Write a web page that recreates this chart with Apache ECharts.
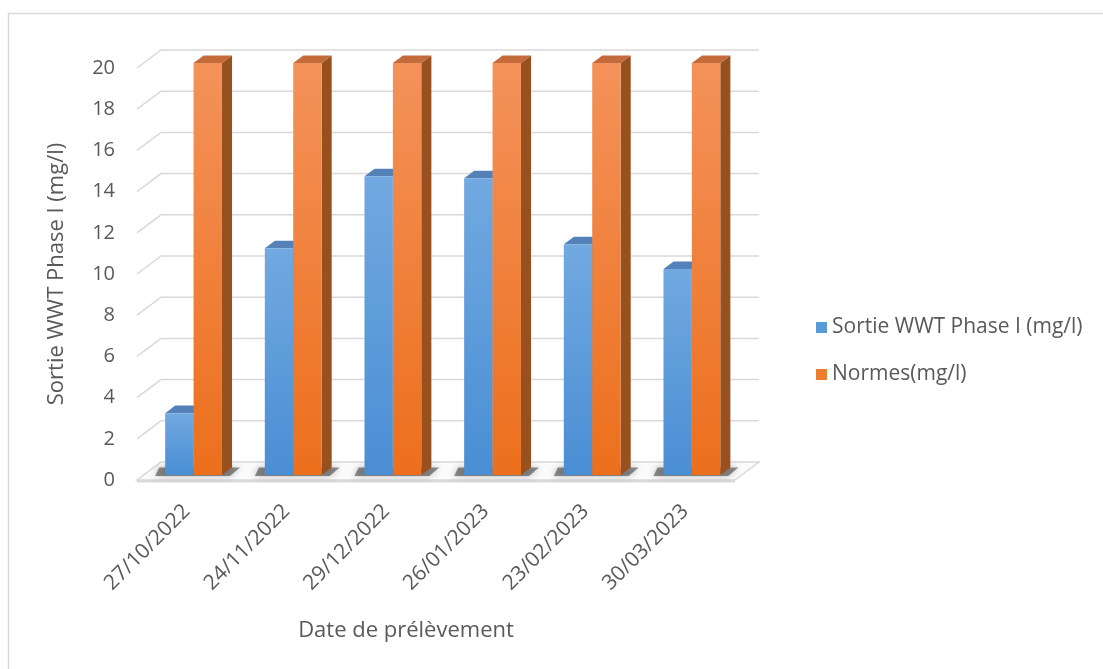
<!DOCTYPE html>
<html>
<head>
<meta charset="utf-8">
<script src="https://cdn.jsdelivr.net/npm/echarts@6/dist/echarts.min.js"></script>
<style>
  html, body { margin: 0; padding: 0; background: #ffffff; }
  #chart { width: 1103px; height: 669px; }
</style>
</head>
<body>
<div id="chart"></div>
<script>
// Sampling dates and measured values
const categories = ['27/10/2022', '24/11/2022', '29/12/2022', '26/01/2023', '23/02/2023', '30/03/2023'];
const sortieValues = [3.0, 11.0, 14.5, 14.4, 11.2, 10.0];
const normesValues = [20, 20, 20, 20, 20, 20];
const yTicks = [0, 2, 4, 6, 8, 10, 12, 14, 16, 18, 20];

const seriesNames = ['Sortie WWT Phase I (mg/l)', 'Normes(mg/l)'];
const FONT = 'Open Sans';
const TEXT = '#595959';

// Perspective: full floor depth, and where bars sit inside it
const DEPTH = [24, -18];
const BAR_FRONT = 0.28;   // fraction of depth to bar front face
const BAR_DEPTH = 0.42;   // fraction of depth used by bar thickness
const BAR_W = 0.285;      // bar width as fraction of category band

const styles = [
  { front: ['#71a9e0', '#4a8ed4'], top: '#5482b8', side: '#3a6ea5', legend: '#5b9bd5' },
  { front: ['#f4925a', '#ec6f1c'], top: '#c46b3c', side: '#99501f', legend: '#ed7d31' }
];

const chart = echarts.init(document.getElementById('chart'), null, { renderer: 'canvas' });

function bandInfo(api) {
  const bw = api.size([1, 0])[0];
  const L = api.coord([0, 0])[0] - bw / 2;
  const R = api.coord([categories.length - 1, 0])[0] + bw / 2;
  return { bw, L, R };
}

// Back wall, side wall and floor grid lines
function renderWalls(params, api) {
  const t = api.value(1);
  const { L, R } = bandInfo(api);
  const y = api.coord([0, t])[1];
  const [dx, dy] = DEPTH;
  const children = [];
  if (t === 0) {
    children.push({
      type: 'polygon',
      shape: { points: [[L, y], [R, y], [R + dx, y + dy], [L + dx, y + dy]] },
      style: { fill: '#fbfbfb', stroke: '#d9d9d9', lineWidth: 1.5 }
    });
    children.push({
      type: 'rect',
      shape: { x: L, y: y, width: R - L, height: 2.5 },
      style: { fill: '#d9d9d9' }
    });
  } else {
    children.push({
      type: 'polyline',
      shape: { points: [[L, y], [L + dx, y + dy], [R + dx, y + dy]] },
      style: { stroke: '#d9d9d9', lineWidth: 1.5, fill: null }
    });
  }
  return { type: 'group', children };
}

// Soft shadows cast on the floor around each pair of bars
function renderShadow(params, api) {
  const ci = api.value(0);
  const { bw } = bandInfo(api);
  const base = api.coord([ci, 0]);
  const w = bw * BAR_W;
  const ox = DEPTH[0] * BAR_FRONT, oy = DEPTH[1] * BAR_FRONT;
  const dx = DEPTH[0] * BAR_DEPTH, dy = DEPTH[1] * BAR_DEPTH;
  const x0 = base[0] - w + ox - 16, x1 = base[0] + w + ox + 8;
  const yb = base[1] + oy;
  return {
    type: 'polygon',
    shape: { points: [[x0 + 6, yb + 1], [x1, yb + 1], [x1 + dx, yb + dy], [x0 + dx, yb + dy]] },
    style: { fill: 'rgba(40,40,40,0.5)', shadowBlur: 7, shadowColor: 'rgba(0,0,0,0.55)' }
  };
}

// 3D bar made of a front face, top face and right side face
function makeBarRenderer(sideIdx) {
  const st = styles[sideIdx];
  return function (params, api) {
    const ci = api.value(0), v = api.value(1);
    const { bw } = bandInfo(api);
    const base = api.coord([ci, 0]);
    const top = api.coord([ci, v]);
    const w = bw * BAR_W;
    const ox = DEPTH[0] * BAR_FRONT, oy = DEPTH[1] * BAR_FRONT;
    const dx = DEPTH[0] * BAR_DEPTH, dy = DEPTH[1] * BAR_DEPTH;
    const x0 = base[0] + (sideIdx === 0 ? -w : 0) + ox;
    const x1 = x0 + w;
    const yb = base[1] + oy;
    const yt = top[1] + oy;
    return {
      type: 'group',
      children: [
        {
          type: 'polygon',
          shape: { points: [[x1, yt], [x1 + dx, yt + dy], [x1 + dx, yb + dy], [x1, yb]] },
          style: { fill: st.side }
        },
        {
          type: 'polygon',
          shape: { points: [[x0, yt], [x0 + dx, yt + dy], [x1 + dx, yt + dy], [x1, yt]] },
          style: { fill: st.top }
        },
        {
          type: 'rect',
          shape: { x: x0, y: yt, width: w, height: yb - yt },
          style: {
            fill: new echarts.graphic.LinearGradient(0, 0, 0, 1, [
              { offset: 0, color: st.front[0] },
              { offset: 1, color: st.front[1] }
            ])
          }
        }
      ]
    };
  };
}

const option = {
  backgroundColor: '#ffffff',
  animation: false,
  textStyle: { fontFamily: FONT },
  graphic: [
    {
      type: 'rect',
      shape: { x: 8.5, y: 13.5, width: 1200, height: 800 },
      style: { fill: null, stroke: '#d9d9d9', lineWidth: 1.5 },
      silent: true,
      z: -10
    }
  ],
  legend: {
    orient: 'vertical',
    left: 811,
    top: 312,
    itemGap: 26,
    itemWidth: 11,
    itemHeight: 11,
    icon: 'rect',
    textStyle: { fontFamily: FONT, fontSize: 21, color: TEXT },
    data: [
      { name: seriesNames[0], itemStyle: { color: styles[0].legend } },
      { name: seriesNames[1], itemStyle: { color: styles[1].legend } }
    ]
  },
  grid: { left: 137, top: 68, width: 598, height: 412, containLabel: false },
  xAxis: {
    type: 'category',
    data: categories,
    axisLine: { show: false },
    axisTick: { show: false },
    axisLabel: {
      rotate: 45,
      margin: 28,
      fontFamily: FONT,
      fontSize: 21,
      color: TEXT,
      padding: [0, 0, 0, 14]
    },
    name: 'Date de prélèvement',
    nameLocation: 'middle',
    nameGap: 140,
    nameTextStyle: { fontFamily: FONT, fontSize: 22, color: TEXT, padding: [0, 60, 0, 0] }
  },
  yAxis: {
    type: 'value',
    min: 0,
    max: 20,
    interval: 2,
    axisLine: { show: false },
    axisTick: { show: false },
    splitLine: { show: false },
    axisLabel: { margin: 22, fontFamily: FONT, fontSize: 20, color: TEXT },
    name: 'Sortie WWT Phase I (mg/l)',
    nameLocation: 'middle',
    nameGap: 69,
    nameTextStyle: { fontFamily: FONT, fontSize: 22, color: TEXT }
  },
  series: [
    {
      type: 'custom',
      name: 'walls',
      renderItem: renderWalls,
      data: yTicks.map(t => [0, t]),
      clip: false,
      silent: true,
      z: 1
    },
    {
      type: 'custom',
      name: 'shadows',
      renderItem: renderShadow,
      data: categories.map((c, i) => [i, 0]),
      clip: false,
      silent: true,
      z: 2
    },
    {
      type: 'custom',
      name: seriesNames[0],
      renderItem: makeBarRenderer(0),
      data: sortieValues.map((v, i) => [i, v]),
      itemStyle: { color: styles[0].legend },
      clip: false,
      z: 3
    },
    {
      type: 'custom',
      name: seriesNames[1],
      renderItem: makeBarRenderer(1),
      data: normesValues.map((v, i) => [i, v]),
      itemStyle: { color: styles[1].legend },
      clip: false,
      z: 4
    }
  ]
};

chart.setOption(option);
</script>
</body>
</html>
